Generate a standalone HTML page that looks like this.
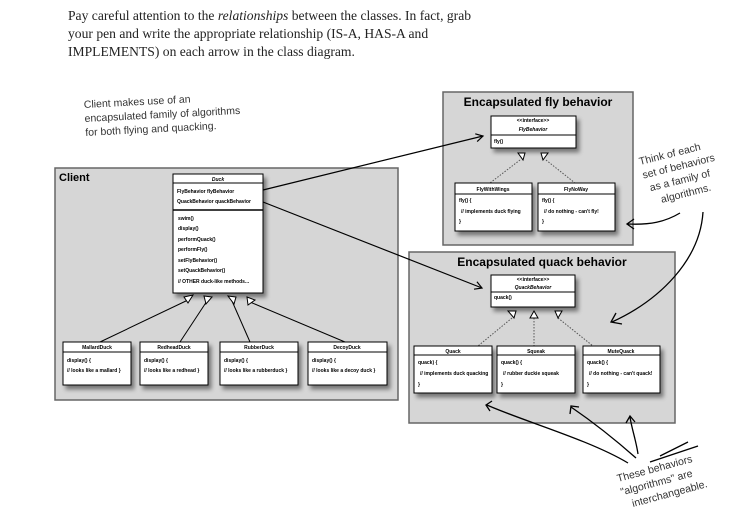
<!DOCTYPE html>
<html><head><meta charset="utf-8"><style>
body{margin:0;background:#fff;width:753px;height:517px;overflow:hidden}
svg{display:block}
.t{font-family:"Liberation Sans",sans-serif;font-weight:bold}
.s{font-family:"Liberation Sans",sans-serif;font-size:5px;font-weight:bold}
.h{font-family:"Liberation Sans",sans-serif;font-size:10.5px;fill:#333}
.p{font-family:"Liberation Serif",serif;font-size:13.6px;fill:#222}
</style></head><body>
<svg width="753" height="517" viewBox="0 0 753 517">
<defs>
<filter id="sh" x="-10%" y="-10%" width="130%" height="140%"><feDropShadow dx="3" dy="4" stdDeviation="2" flood-color="#000" flood-opacity="0.45"/></filter>
<marker id="ar" markerWidth="10" markerHeight="10" refX="8" refY="5" orient="auto" markerUnits="userSpaceOnUse"><path d="M1,1 L8,5 L1,9" fill="none" stroke="#000" stroke-width="1.2"/></marker>
</defs>
<text class="p" x="68" y="20">Pay careful attention to the <tspan font-style="italic">relationships</tspan> between the classes. In fact, grab</text>
<text class="p" x="68" y="38">your pen and write the appropriate relationship (IS-A, HAS-A and</text>
<text class="p" x="68" y="56">IMPLEMENTS) on each arrow in the class diagram.</text>

<g class="h" transform="rotate(-3 84 108)">
<text x="84" y="108">Client makes use of an</text>
<text x="84" y="122">encapsulated family of algorithms</text>
<text x="84" y="136">for both flying and quacking.</text>
</g>

<rect x="55" y="168" width="343" height="232" fill="#d6d6d6" stroke="#666" stroke-width="1.5"/>
<text class="t" x="59" y="181" font-size="11">Client</text>
<rect x="173" y="174" width="90" height="119" fill="#fff" stroke="#000" filter="url(#sh)"/>
<line x1="173" y1="183" x2="263" y2="183" stroke="#000"/>
<line x1="173" y1="210" x2="263" y2="210" stroke="#000" stroke-width="1.5"/>
<text class="s" x="218" y="181" text-anchor="middle" font-style="italic">Duck</text>
<text class="s" x="177" y="193">FlyBehavior flyBehavior</text>
<text class="s" x="177" y="203">QuackBehavior quackBehavior</text>
<text class="s" x="178" y="220">swim()</text>
<text class="s" x="178" y="230">display()</text>
<text class="s" x="178" y="241">performQuack()</text>
<text class="s" x="178" y="251">performFly()</text>
<text class="s" x="178" y="262">setFlyBehavior()</text>
<text class="s" x="178" y="272">setQuackBehavior()</text>
<text class="s" x="178" y="283">// OTHER duck-like methods...</text>
<g stroke="#000" stroke-width="1" fill="#fff">
<line x1="100" y1="342" x2="188" y2="300"/><line x1="180" y1="342" x2="207" y2="301"/>
<line x1="250" y1="342" x2="232" y2="301"/><line x1="345" y1="342" x2="250" y2="302"/>
<path d="M184,297 L193,295 L188,303 Z"/><path d="M204,296 L212,297 L206,304 Z"/>
<path d="M228,296 L236,297 L234,304 Z"/><path d="M247,297 L255,300 L248,305 Z"/>
</g>
<g>
<rect x="63" y="342" width="68" height="43" fill="#fff" stroke="#000" filter="url(#sh)"/>
<rect x="140" y="342" width="68" height="43" fill="#fff" stroke="#000" filter="url(#sh)"/>
<rect x="220" y="342" width="78" height="43" fill="#fff" stroke="#000" filter="url(#sh)"/>
<rect x="308" y="342" width="79" height="43" fill="#fff" stroke="#000" filter="url(#sh)"/>
<g stroke="#000"><line x1="63" y1="352" x2="131" y2="352"/><line x1="140" y1="352" x2="208" y2="352"/><line x1="220" y1="352" x2="298" y2="352"/><line x1="308" y1="352" x2="387" y2="352"/></g>
<text class="s" x="97" y="349" text-anchor="middle">MallardDuck</text>
<text class="s" x="174" y="349" text-anchor="middle">RedheadDuck</text>
<text class="s" x="259" y="349" text-anchor="middle">RubberDuck</text>
<text class="s" x="347" y="349" text-anchor="middle">DecoyDuck</text>
<text class="s" x="67" y="362">display() {</text><text class="s" x="67" y="372">// looks like a mallard }</text>
<text class="s" x="144" y="362">display() {</text><text class="s" x="144" y="372">// looks like a redhead }</text>
<text class="s" x="224" y="362">display() {</text><text class="s" x="224" y="372">// looks like a rubberduck }</text>
<text class="s" x="312" y="362">display() {</text><text class="s" x="312" y="372">// looks like a decoy duck }</text>
</g>

<rect x="443" y="92" width="190" height="153" fill="#d6d6d6" stroke="#666" stroke-width="1.5"/>
<text class="t" x="538" y="106" font-size="12" text-anchor="middle">Encapsulated fly behavior</text>
<rect x="491" y="116" width="85" height="32" fill="#fff" stroke="#000" filter="url(#sh)"/>
<line x1="491" y1="135" x2="576" y2="135" stroke="#000"/>
<text class="s" x="533" y="122" text-anchor="middle" font-weight="normal" font-size="4.5">&lt;&lt;interface&gt;&gt;</text>
<text class="s" x="533" y="131" text-anchor="middle" font-style="italic">FlyBehavior</text>
<text class="s" x="494" y="143">fly()</text>
<g stroke="#555" stroke-dasharray="1.5,1.5"><line x1="520" y1="160" x2="490" y2="183"/><line x1="546" y1="160" x2="575" y2="183"/></g>
<g stroke="#000" fill="#fff"><path d="M518,153 L525,153 L523,160 Z"/><path d="M541,153 L548,153 L543,160 Z"/></g>
<rect x="455" y="183" width="77" height="48" fill="#fff" stroke="#000" filter="url(#sh)"/>
<rect x="538" y="183" width="77" height="48" fill="#fff" stroke="#000" filter="url(#sh)"/>
<g stroke="#000"><line x1="455" y1="194" x2="532" y2="194"/><line x1="538" y1="194" x2="615" y2="194"/></g>
<text class="s" x="493" y="191" text-anchor="middle">FlyWithWings</text>
<text class="s" x="576" y="191" text-anchor="middle">FlyNoWay</text>
<text class="s" x="459" y="202">fly() {</text><text class="s" x="461" y="213">// implements duck flying</text><text class="s" x="459" y="223">}</text>
<text class="s" x="542" y="202">fly() {</text><text class="s" x="544" y="213">// do nothing - can't fly!</text><text class="s" x="542" y="223">}</text>

<rect x="409" y="252" width="266" height="171" fill="#d6d6d6" stroke="#666" stroke-width="1.5"/>
<text class="t" x="542" y="266" font-size="12" text-anchor="middle">Encapsulated quack behavior</text>
<rect x="491" y="275" width="84" height="32" fill="#fff" stroke="#000" filter="url(#sh)"/>
<line x1="491" y1="292" x2="575" y2="292" stroke="#000"/>
<text class="s" x="533" y="281" text-anchor="middle" font-weight="normal" font-size="4.5">&lt;&lt;interface&gt;&gt;</text>
<text class="s" x="533" y="289" text-anchor="middle" font-style="italic">QuackBehavior</text>
<text class="s" x="494" y="299">quack()</text>
<g stroke="#555" stroke-dasharray="1.5,1.5"><line x1="512" y1="318" x2="478" y2="346"/><line x1="534" y1="318" x2="534" y2="346"/><line x1="558" y1="318" x2="593" y2="346"/></g>
<g stroke="#000" fill="#fff"><path d="M508,311 L516,311 L514,318 Z"/><path d="M530,318 L534,311 L538,318 Z"/><path d="M555,311 L562,311 L558,318 Z"/></g>
<rect x="414" y="346" width="78" height="47" fill="#fff" stroke="#000" filter="url(#sh)"/>
<rect x="497" y="346" width="78" height="47" fill="#fff" stroke="#000" filter="url(#sh)"/>
<rect x="583" y="346" width="77" height="47" fill="#fff" stroke="#000" filter="url(#sh)"/>
<g stroke="#000"><line x1="414" y1="355" x2="492" y2="355"/><line x1="497" y1="355" x2="575" y2="355"/><line x1="583" y1="355" x2="660" y2="355"/></g>
<text class="s" x="453" y="353" text-anchor="middle">Quack</text>
<text class="s" x="536" y="353" text-anchor="middle">Squeak</text>
<text class="s" x="621" y="353" text-anchor="middle">MuteQuack</text>
<text class="s" x="418" y="364">quack) {</text><text class="s" x="420" y="375">// implements duck quacking</text><text class="s" x="418" y="386">}</text>
<text class="s" x="501" y="364">quack() {</text><text class="s" x="503" y="375">// rubber duckie squeak</text><text class="s" x="501" y="386">}</text>
<text class="s" x="587" y="364">quack() {</text><text class="s" x="589" y="375">// do nothing - can't quack!</text><text class="s" x="587" y="386">}</text>

<line x1="263" y1="190" x2="483" y2="136" stroke="#000" stroke-width="1.2" marker-end="url(#ar)"/>
<line x1="263" y1="202" x2="482" y2="288" stroke="#000" stroke-width="1.2" marker-end="url(#ar)"/>

<g class="h" transform="rotate(-14 640 165)">
<text x="640" y="165">Think of each</text>
<text x="640" y="179">set of behaviors</text>
<text x="644" y="193">as a family of</text>
<text x="652" y="207">algorithms.</text>
</g>
<g fill="none" stroke="#000" stroke-width="1.3">
<path d="M680,213 C665,222 650,225 628,224"/><path d="M634,219 L627,224 L634,229"/>
<path d="M703,212 C700,260 660,300 612,322"/><path d="M616,313 L611,322 L622,324"/>
<path d="M628,463 C590,440 520,420 487,405"/><path d="M492,401 L486,405 L490,411"/>
<path d="M636,458 C610,435 590,420 571,407"/><path d="M570,414 L571,406 L579,407"/>
<path d="M638,454 C636,440 632,430 630,417"/><path d="M626,423 L630,416 L635,422"/>
<path d="M650,462 L698,446"/><path d="M660,456 L688,442"/>
</g>
<g class="h" transform="rotate(-15 618 482)">
<text x="618" y="482">These behaviors</text>
<text x="618" y="496">"algorithms" are</text>
<text x="626" y="510">interchangeable.</text>
</g>
</svg>
</body></html>
